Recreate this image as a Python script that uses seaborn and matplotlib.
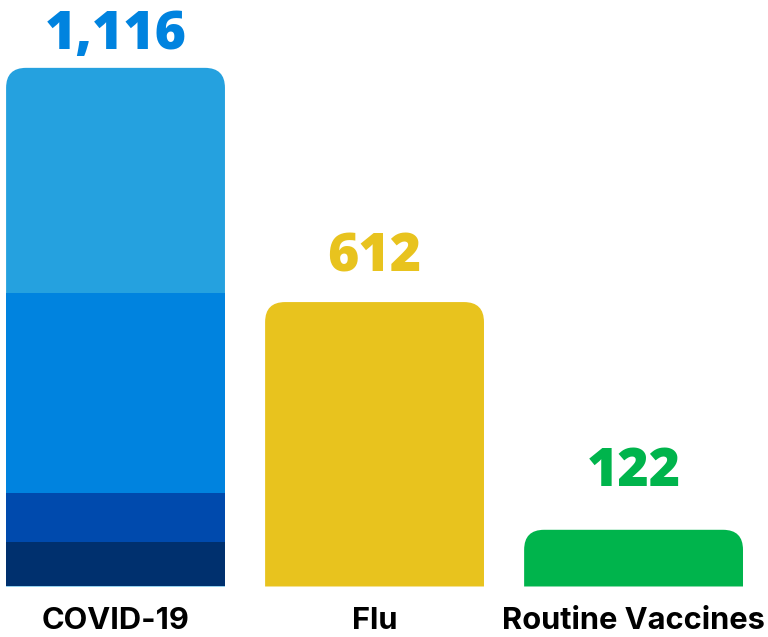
import numpy as np
import matplotlib
matplotlib.use('Agg')
import matplotlib.pyplot as plt
from matplotlib.path import Path
from matplotlib.patches import PathPatch
import seaborn as sns

# data
categories = ['COVID-19', 'Flu', 'Routine Vaccines']
totals = [1116, 612, 122]
covid_segments = [96, 105, 431, 484]  # bottom -> top
value_labels = ['1,116', '612', '122']

top_colors = ['#25A1DF', '#E8C31E', '#00B44C']
covid_colors = ['#00306E', '#004AAD', '#0083DF', '#25A1DF']
label_colors = ['#0083DF', '#E8C31E', '#00B44C']
label_gap_px = [32, 44, 57]

sns.set_theme(style='white')
plt.rcParams['font.family'] = ['Inter', 'DejaVu Sans']

fig = plt.figure(figsize=(7.68, 6.37), dpi=100)
ax = fig.add_axes([0, 0, 1, 1])

# full bars (tops of the stacks)
sns.barplot(x=categories, y=totals, hue=categories, palette=top_colors,
            order=categories, width=0.845, legend=False, ax=ax, saturation=1,
            linewidth=0)
ax.set_xlim(-0.446, 2.519)
ax.set_ylim(-108.7, 1262)

# round the top corners of the full bars
for p in list(ax.patches):
    x, y, w, h = p.get_x(), p.get_y(), p.get_width(), p.get_height()
    if h <= 0:
        continue
    color = p.get_facecolor()
    p.remove()
    rx = 20 / 259
    ry = 20 * 2.152
    verts = [(x, y), (x, y + h - ry), (x, y + h), (x + rx, y + h),
             (x + w - rx, y + h), (x + w, y + h), (x + w, y + h - ry),
             (x + w, y), (x, y)]
    codes = [Path.MOVETO, Path.LINETO, Path.CURVE3, Path.CURVE3,
             Path.LINETO, Path.CURVE3, Path.CURVE3, Path.LINETO, Path.CLOSEPOLY]
    ax.add_patch(PathPatch(Path(verts, codes), facecolor=color,
                           edgecolor='none', zorder=1))

# lower COVID-19 segments, overlaid from tallest to shortest
cum = np.cumsum(covid_segments)
for height, color in zip(cum[:-1][::-1], covid_colors[:-1][::-1]):
    sns.barplot(x=['COVID-19'], y=[height], order=categories, color=color,
                width=0.845, ax=ax, saturation=1, linewidth=0, zorder=2)

ax.set_xlim(-0.446, 2.519)
ax.set_ylim(-108.7, 1262)
ax.axis('off')

for i, (lab, tot) in enumerate(zip(value_labels, totals)):
    ax.annotate(lab, (i, tot), xytext=(0, label_gap_px[i] * 0.72),
                textcoords='offset points', ha='center', va='center',
                fontsize=38.5, fontweight='heavy', color=label_colors[i],
                family=['Open Sans', 'DejaVu Sans'])

for i, cat in enumerate(categories):
    ax.annotate(cat, (i, 0), xytext=(0, -34.5 * 0.72),
                textcoords='offset points', ha='center', va='center',
                fontsize=22.2, fontweight='bold', color='black')

fig.savefig('out.png', dpi=100)
